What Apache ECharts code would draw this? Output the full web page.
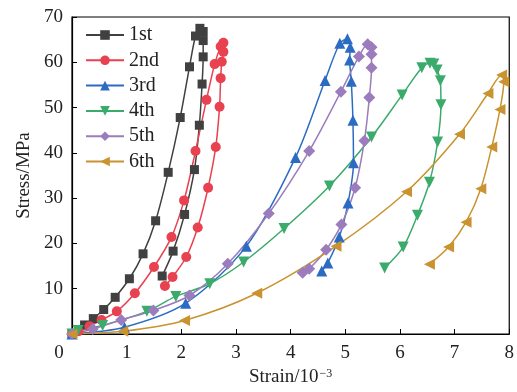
<!DOCTYPE html>
<html>
<head>
<meta charset="utf-8">
<script src="https://cdn.jsdelivr.net/npm/echarts@6/dist/echarts.min.js"></script>
<style>
  html, body { margin: 0; padding: 0; background: #fff; }
  #chart { width: 517px; height: 392px; }
</style>
</head>
<body>
<div id="chart"></div>
<script>
// Stress–strain loops of six loading cycles: [strain (10^-3), stress (MPa)]
const cycleNames = ['1st', '2nd', '3rd', '4th', '5th', '6th'];

const cycle1 = [[0, 0], [0.23, 2.0], [0.39, 3.4], [0.58, 5.4], [0.79, 8.1], [1.05, 12.2], [1.30, 17.7],
  [1.53, 25.0], [1.76, 35.7], [1.98, 47.8], [2.15, 59.0], [2.26, 65.8], [2.34, 67.5], [2.40, 66.8],
  [2.40, 64.8], [2.40, 61.2], [2.38, 55.2], [2.33, 46.1], [2.24, 36.3], [2.06, 26.4], [1.85, 18.3], [1.65, 12.8]];

const cycle2 = [[0, 0], [0.12, 0.6], [0.32, 1.7], [0.54, 3.1], [0.82, 5.0], [1.15, 9.0], [1.50, 14.8],
  [1.82, 21.4], [2.05, 29.5], [2.26, 40.4], [2.46, 51.7], [2.61, 59.6], [2.72, 63.5], [2.77, 64.3],
  [2.77, 62.3], [2.74, 60.1], [2.72, 56.5], [2.70, 50.2], [2.63, 41.3], [2.49, 32.3], [2.30, 23.5],
  [2.09, 17.0], [1.84, 12.6], [1.70, 10.6]];

const cycle3 = [[0, 0], [0.96, 1.5], [2.08, 6.8], [3.19, 19.4], [4.09, 39.0], [4.63, 56.0], [4.90, 64.2],
  [5.04, 65.2], [5.09, 63.3], [5.08, 60.5], [5.11, 55.8], [5.14, 47.2], [5.15, 37.8], [5.05, 28.9],
  [4.89, 21.4], [4.68, 15.7], [4.57, 13.9]];

const cycle4 = [[0, 0], [0.11, 0.8], [0.56, 1.9], [1.37, 5.0], [1.90, 8.3], [2.52, 11.1], [3.14, 15.9],
  [3.88, 23.3], [4.71, 32.7], [5.48, 43.5], [6.04, 52.8], [6.40, 58.8], [6.55, 59.8], [6.62, 59.6],
  [6.68, 58.3], [6.74, 55.9], [6.75, 50.6], [6.69, 42.4], [6.54, 33.5], [6.32, 26.2], [6.06, 19.2], [5.72, 14.6]];

const cycle5 = [[0, 0], [0.38, 1.1], [0.90, 3.1], [1.49, 5.2], [2.15, 8.5], [2.85, 15.5], [3.60, 26.6],
  [4.34, 40.4], [4.92, 53.5], [5.25, 61.3], [5.41, 64.0], [5.48, 63.3], [5.48, 61.8], [5.48, 58.8],
  [5.44, 52.2], [5.35, 42.7], [5.18, 32.3], [4.93, 24.2], [4.65, 18.6], [4.34, 14.4], [4.22, 13.5]];

const cycle6 = [[0, 0], [0.93, 0.6], [2.06, 3.0], [3.38, 9.0], [4.83, 19.4], [6.12, 31.4], [7.09, 44.1],
  [7.61, 53.1], [7.86, 57.2], [7.90, 55.7], [7.83, 49.6], [7.68, 41.3], [7.48, 32.1], [7.21, 24.7],
  [6.89, 19.2], [6.54, 15.4]];

const strainTicks = [0, 1, 2, 3, 4, 5, 6, 7, 8];
const stressTicks = [0, 10, 20, 30, 40, 50, 60, 70];

const cycles = [cycle1, cycle2, cycle3, cycle4, cycle5, cycle6];
const colors = ['#404040', '#e8414f', '#2b6cc2', '#3bab6c', '#9b7cbc', '#c9932f'];
const symbols = ['rect', 'circle', 'triangle', 'triangle', 'diamond', 'triangle'];
const rotations = [0, 0, 0, 180, 0, 90];
const sizes = [9, 10, 11, 11, 12, 11];

const FONT = 'Liberation Serif';

const chart = echarts.init(document.getElementById('chart'), null, { renderer: 'canvas' });

const series = cycles.map((data, i) => ({
  name: cycleNames[i],
  type: 'line',
  data: data,
  smooth: 0.3,
  symbol: symbols[i],
  symbolSize: sizes[i],
  symbolRotate: rotations[i],
  showAllSymbol: true,
  lineStyle: { color: colors[i], width: 1.5 },
  itemStyle: { color: colors[i], borderWidth: 0 },
  emphasis: { disabled: true },
  animation: false
}));

chart.setOption({
  animation: false,
  textStyle: { fontFamily: FONT },
  grid: {
    left: 72, right: 5, top: 17, bottom: 58,
    show: true, borderColor: '#000', borderWidth: 1.2
  },
  legend: {
    orient: 'vertical',
    left: 85, top: 25,
    padding: 0,
    itemWidth: 38, itemHeight: 12,
    itemGap: 5.3,
    textStyle: { fontFamily: FONT, fontSize: 20, color: '#222', lineHeight: 20 },
    data: cycleNames
  },
  xAxis: {
    type: 'value',
    min: strainTicks[0], max: strainTicks[strainTicks.length - 1], interval: 1,
    name: '{a|Strain/10}{b|−3}',
    nameLocation: 'middle',
    nameGap: 33,
    nameTextStyle: {
      rich: {
        a: { fontFamily: FONT, fontSize: 19, color: '#222' },
        b: { fontFamily: FONT, fontSize: 12, color: '#222', verticalAlign: 'top', padding: [0, 0, 6, 1] }
      }
    },
    axisLine: { lineStyle: { color: '#000', width: 1.2 } },
    axisTick: { inside: true, length: 5, lineStyle: { color: '#000' } },
    splitLine: { show: false },
    axisLabel: {
      fontFamily: FONT, fontSize: 19, color: '#222', margin: 10,
      formatter: v => (v === 0 ? '{o|0}' : String(v)),
      rich: { o: { fontFamily: FONT, fontSize: 19, color: '#222', padding: [0, 26, 0, 0] } }
    }
  },
  yAxis: {
    type: 'value',
    min: stressTicks[0], max: stressTicks[stressTicks.length - 1], interval: 10,
    name: 'Stress/MPa',
    nameLocation: 'middle',
    nameGap: 35,
    nameTextStyle: { fontFamily: FONT, fontSize: 19, color: '#222' },
    axisLine: { lineStyle: { color: '#000', width: 1.2 } },
    axisTick: { inside: true, length: 5, lineStyle: { color: '#000' } },
    splitLine: { show: false },
    axisLabel: {
      fontFamily: FONT, fontSize: 19, color: '#222', margin: 9,
      formatter: v => (v === 0 ? '' : String(v))
    }
  },
  series: series
});
</script>
</body>
</html>
